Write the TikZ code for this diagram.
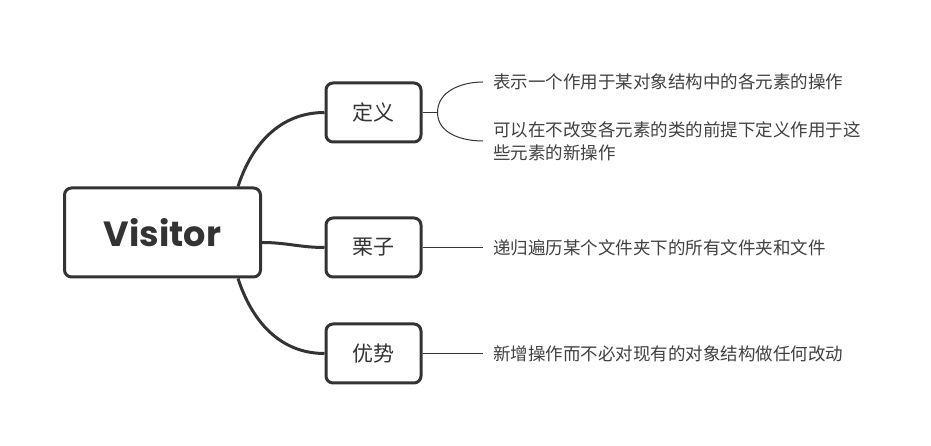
\documentclass[tikz,border=0pt]{standalone}
\usepackage{fontspec}
\setmainfont{Noto Sans CJK SC}
\newfontfamily\titlefont{Poppins}[UprightFont=* Bold]
\usetikzlibrary{positioning}

\definecolor{ink}{HTML}{333333}
\definecolor{leaftext}{HTML}{404040}

\begin{document}
\begin{tikzpicture}[
  x=1pt,y=1pt,
  rootbox/.style={draw=ink,fill=white,line width=3pt,rounded corners=7pt,minimum width=196pt,minimum height=89pt,font=\titlefont\fontsize{35}{40}\selectfont,text=ink},
  topicbox/.style={draw=ink,fill=white,line width=3pt,rounded corners=7pt,minimum width=95pt,minimum height=59pt,font=\fontsize{21}{25}\selectfont,text=ink},
  leaf/.style={anchor=west,inner xsep=10pt,inner ysep=0pt,align=left,text=leaftext,font=\fontsize{17.5}{23}\selectfont},
  branch/.style={draw=ink,line width=3pt},
  twig/.style={draw=ink,line width=1pt},
]
\useasboundingbox (0,0) rectangle (931,446);

\node[rootbox] (root) at (162.5,213.5) {Visitor};
\node[topicbox] (define) at (373.5,333.5) {定义};
\node[topicbox] (example) at (373.5,198.5) {栗子};
\node[topicbox] (merit) at (373.5,92.5) {优势};

\node[leaf] (def1) at (483,364) {表示一个作用于某对象结构中的各元素的操作};
\node[leaf] (def2) at (483,305) {可以在不改变各元素的类的前提下定义作用于这\\些元素的新操作};
\node[leaf] (ex1) at (483,198.5) {递归遍历某个文件夹下的所有文件夹和文件};
\node[leaf] (mer1) at (483,92.5) {新增操作而不必对现有的对象结构做任何改动};

% main branches
\draw[branch] ([xshift=-24pt]root.north east) to[out=72,in=180] (define.west);
\draw[branch] ([yshift=-10pt]root.east) to[out=0,in=180] (example.west);
\draw[branch] ([xshift=-24pt]root.south east) to[out=-72,in=180] (merit.west);

% leaf lines
\coordinate (fork) at ([xshift=15pt]define.east);
\draw[twig] (define.east) -- (fork);
\draw[twig] (fork) to[out=90,in=180] (def1.west);
\draw[twig] (fork) to[out=-90,in=180] (def2.west);
\draw[twig] (example.east) -- (ex1.west);
\draw[twig] (merit.east) -- (mer1.west);
\end{tikzpicture}
\end{document}
